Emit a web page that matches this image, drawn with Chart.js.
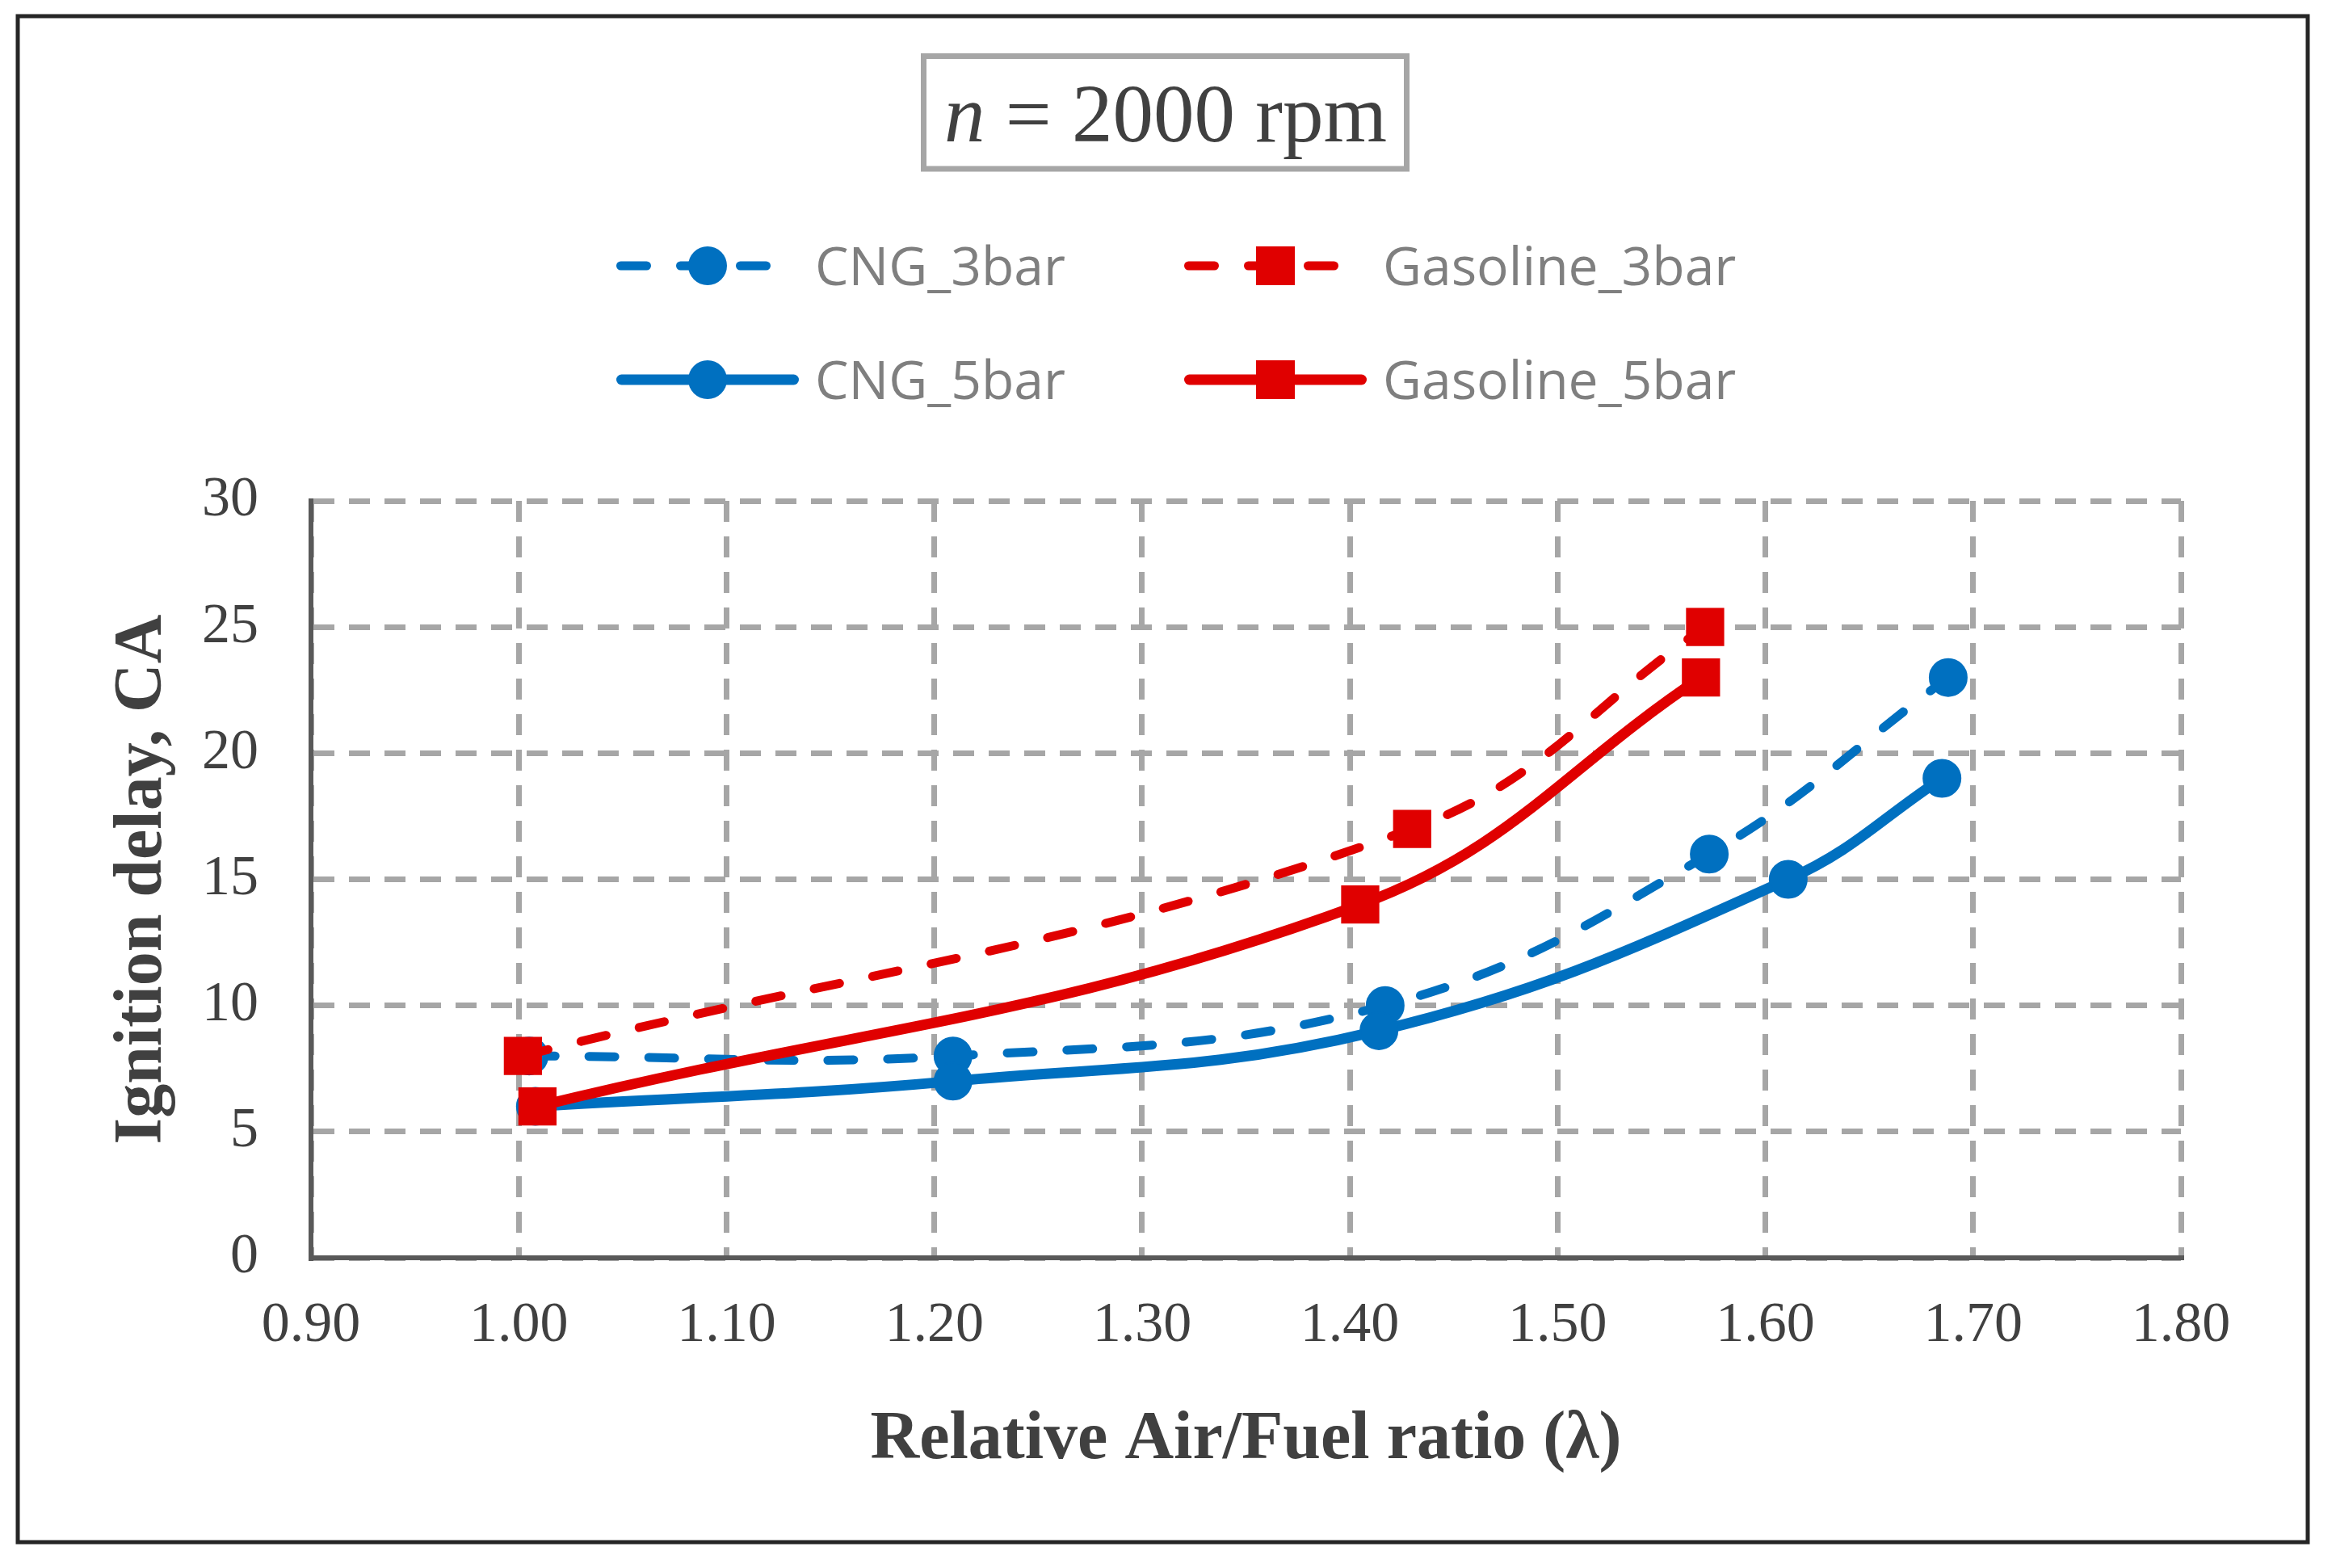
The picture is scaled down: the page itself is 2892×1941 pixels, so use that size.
<!DOCTYPE html>
<html>
<head>
<meta charset="utf-8">
<style>
  html, body { margin: 0; padding: 0; background: #ffffff; }
  #wrap { width: 2892px; height: 1941px; position: relative; }
</style>
<script src="https://cdn.jsdelivr.net/npm/chart.js@4.4.1/dist/chart.umd.min.js"></script>
</head>
<body>
<div id="wrap"><canvas id="c" width="2892" height="1941"></canvas></div>
<script>
// ---------------- DATA ----------------
const seriesNames = ['CNG_3bar', 'Gasoline_3bar', 'CNG_5bar', 'Gasoline_5bar'];

const cng3X = [1.005, 1.209, 1.417, 1.573, 1.688];
const cng3Y = [8, 8, 10, 16, 23];

const gas3X = [1.002, 1.430, 1.571];
const gas3Y = [8, 17, 25];

const cng5X = [1.008, 1.209, 1.414, 1.611, 1.685];
const cng5Y = [6, 7, 9, 15, 19];

const gas5X = [1.009, 1.405, 1.569];
const gas5Y = [6, 14, 23];

const xTicks = [0.90, 1.00, 1.10, 1.20, 1.30, 1.40, 1.50, 1.60, 1.70, 1.80];
const yTicks = [0, 5, 10, 15, 20, 25, 30];

const titleVar = 'n';
const titleRest = ' = 2000 rpm';
const xTitle = 'Relative Air/Fuel ratio (\u03BB)';
const yTitle = 'Ignition delay, CA';

// ---------------- STYLES ----------------
const BLUE = '#0070c0';
const RED = '#e00000';
const styles = [
  { color: BLUE, dash: [32, 42], width: 11, point: 'circle', r: 23 },
  { color: RED,  dash: [32, 42], width: 11, point: 'rect',   r: 32 },
  { color: BLUE, dash: [],       width: 13, point: 'circle', r: 23 },
  { color: RED,  dash: [],       width: 13, point: 'rect',   r: 32 }
];

function pts(xs, ys) { return xs.map((x, i) => ({ x: x, y: ys[i] })); }
const seriesData = [pts(cng3X, cng3Y), pts(gas3X, gas3Y), pts(cng5X, cng5Y), pts(gas5X, gas5Y)];

// ---------------- DECORATION PLUGIN ----------------
const decor = {
  id: 'decor',
  afterDraw(chart) {
    const ctx = chart.ctx;
    ctx.save();
    // outer frame
    ctx.strokeStyle = '#262626';
    ctx.lineWidth = 5;
    ctx.strokeRect(22, 20, 2835, 1889);

    // title box
    ctx.strokeStyle = '#a6a6a6';
    ctx.lineWidth = 7;
    ctx.strokeRect(1143.5, 69.5, 598, 139.5);
    const fItal = 'italic 101px "Liberation Serif", "Times New Roman", serif';
    const fReg = '101px "Liberation Serif", "Times New Roman", serif';
    ctx.font = fItal;
    const w1 = ctx.measureText(titleVar).width;
    ctx.font = fReg;
    const w2 = ctx.measureText(titleRest).width;
    let tx = 1443 - (w1 + w2) / 2;
    ctx.fillStyle = '#404040';
    ctx.textBaseline = 'alphabetic';
    ctx.textAlign = 'left';
    ctx.font = fItal;
    ctx.fillText(titleVar, tx, 175);
    ctx.font = fReg;
    ctx.fillText(titleRest, tx + w1, 175);

    // legend
    const colX = [763, 1466];
    const rowY = [329, 470];
    const lineLen = 226;
    const order = [[0, 1], [2, 3]];
    order.forEach((row, ri) => {
      row.forEach((si, ci) => {
        const st = styles[si];
        const x0 = colX[ci];
        const y = rowY[ri];
        ctx.save();
        ctx.strokeStyle = st.color;
        ctx.lineWidth = st.width;
        ctx.lineCap = 'round';
        ctx.setLineDash(st.dash);
        ctx.beginPath();
        ctx.moveTo(x0 + st.width / 2, y);
        ctx.lineTo(x0 + lineLen - st.width / 2, y);
        ctx.stroke();
        ctx.restore();
        const cx = x0 + lineLen / 2;
        ctx.fillStyle = st.color;
        if (st.point === 'circle') {
          ctx.beginPath();
          ctx.arc(cx, y, 24, 0, Math.PI * 2);
          ctx.fill();
        } else {
          ctx.fillRect(cx - 24, y - 24, 48, 48);
        }
        ctx.fillStyle = '#7f7f7f';
        ctx.font = '66px "Open Sans", "Noto Sans", sans-serif';
        ctx.textBaseline = 'alphabetic';
        ctx.fillText(seriesNames[si], x0 + 246, y + 23.5);
      });
    });
    ctx.restore();
  }
};

// ---------------- CHART ----------------
const serif = '"Liberation Serif", "Times New Roman", serif';

new Chart(document.getElementById('c'), {
  type: 'line',
  data: {
    datasets: seriesNames.map((name, i) => ({
      label: name,
      data: seriesData[i],
      borderColor: styles[i].color,
      backgroundColor: styles[i].color,
      borderWidth: styles[i].width,
      borderDash: styles[i].dash,
      borderCapStyle: 'round',
      borderJoinStyle: 'round',
      tension: 0.4,
      fill: false,
      pointStyle: styles[i].point,
      pointRadius: styles[i].r,
      pointHoverRadius: styles[i].r,
      pointBorderWidth: 2,
      pointBackgroundColor: styles[i].color,
      pointBorderColor: styles[i].color,
      order: 3 - i
    }))
  },
  options: {
    responsive: false,
    devicePixelRatio: 1,
    animation: false,
    events: [],
    layout: { padding: { left: 100, top: 620, right: 192, bottom: 80 } },
    plugins: {
      legend: { display: false },
      title: { display: false },
      tooltip: { enabled: false }
    },
    scales: {
      x: {
        type: 'linear',
        min: 0.9,
        max: 1.8,
        afterBuildTicks: (ax) => { ax.ticks = xTicks.map(v => ({ value: v })); },
        afterFit: (ax) => { ax.height = 304; },
        ticks: {
          callback: (v) => Number(v).toFixed(2),
          font: { family: serif, size: 70 },
          color: '#404040',
          padding: 43,
          autoSkip: false,
          maxRotation: 0
        },
        grid: { color: '#a6a6a6', lineWidth: 7, drawTicks: false },
        border: { display: true, color: '#595959', width: 6, dash: [26, 18] },
        title: {
          display: true,
          text: xTitle,
          color: '#404040',
          font: { family: serif, size: 84, weight: 'bold', lineHeight: 1.2 },
          padding: { top: 0, bottom: 27 }
        }
      },
      y: {
        type: 'linear',
        min: 0,
        max: 30,
        afterBuildTicks: (ax) => { ax.ticks = yTicks.map(v => ({ value: v })); },
        afterFit: (ax) => { ax.width = 285; },
        ticks: {
          callback: (v) => String(v),
          font: { family: serif, size: 70 },
          color: '#404040',
          padding: 65
        },
        grid: { color: '#a6a6a6', lineWidth: 7, drawTicks: false },
        border: { display: true, color: '#595959', width: 6, dash: [26, 18] },
        title: {
          display: true,
          text: yTitle,
          color: '#404040',
          font: { family: serif, size: 84, weight: 'bold', lineHeight: 1.2 },
          padding: { top: 27, bottom: 0 }
        }
      }
    }
  },
  plugins: [decor]
});
</script>
</body>
</html>
